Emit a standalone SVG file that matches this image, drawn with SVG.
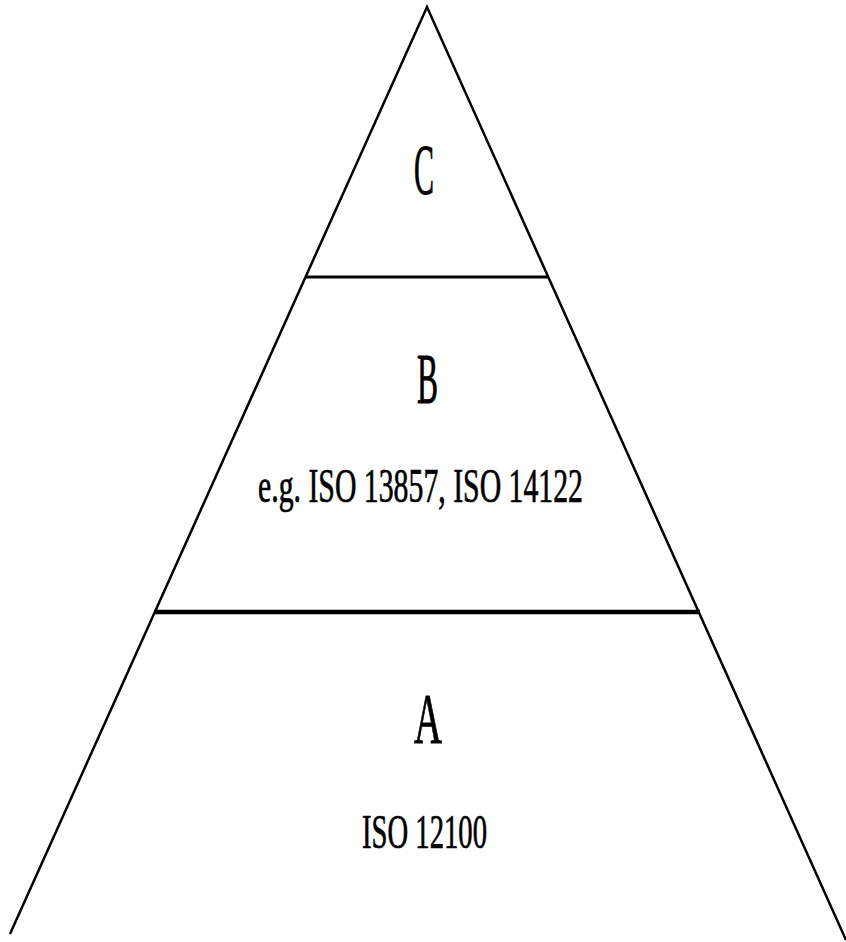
<svg xmlns="http://www.w3.org/2000/svg" width="846" height="942" viewBox="0 0 846 942">
<style>
.edge{stroke:#000;fill:none;stroke-linecap:butt}
.big{font-family:"Liberation Serif",serif;font-size:72px;fill:#000;stroke:#000;stroke-width:1}
.lbl{font-family:"Liberation Serif",serif;font-size:48px;fill:#000;stroke:#000;stroke-width:0.7}
</style>
<rect width="846" height="942" fill="#fff"/>
<g id="connectors">
<polyline class="edge" points="10,934 427,7 846,940" stroke-width="2.5" stroke-linejoin="miter"/>
<line class="edge" x1="306" y1="277" x2="548" y2="277" stroke-width="3"/>
<line class="edge" x1="154" y1="612" x2="700" y2="612" stroke-width="4.5"/>
</g>
<g id="node-C">
<text class="big" x="414" y="194" textLength="20" lengthAdjust="spacingAndGlyphs">C</text>
</g>
<g id="node-B">
<text class="big" x="417" y="403" textLength="21" lengthAdjust="spacingAndGlyphs">B</text>
<text class="lbl" x="258" y="502" textLength="325" lengthAdjust="spacingAndGlyphs">e.g. ISO 13857, ISO 14122</text>
</g>
<g id="node-A">
<text class="big" x="414" y="743" textLength="28" lengthAdjust="spacingAndGlyphs">A</text>
<text class="lbl" x="362" y="848" textLength="125" lengthAdjust="spacingAndGlyphs">ISO 12100</text>
</g>
</svg>
